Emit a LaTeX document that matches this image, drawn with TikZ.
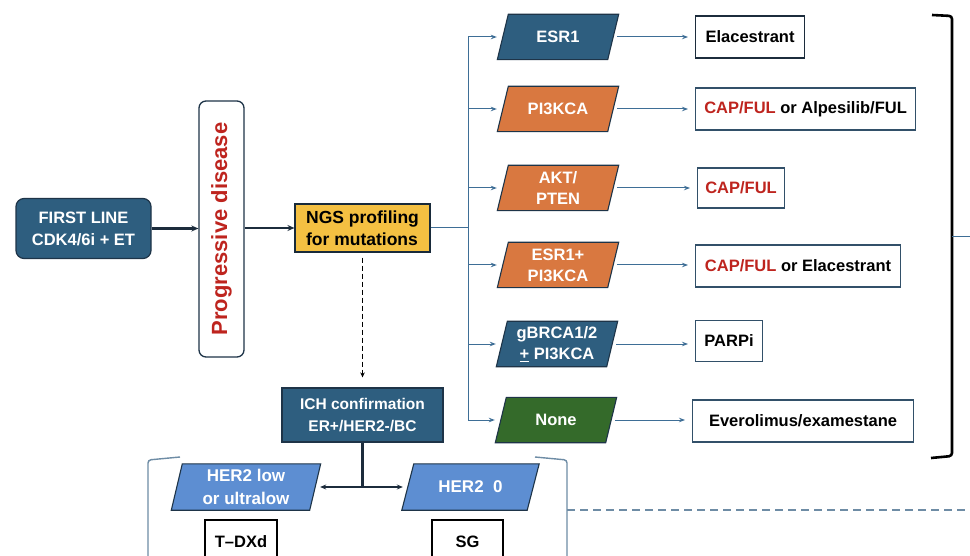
\documentclass[tikz,border=0pt]{standalone}
\usepackage{fontspec}
\setmainfont{Liberation Sans}
\usetikzlibrary{arrows.meta,backgrounds}

\definecolor{navy}{RGB}{46,94,127}
\definecolor{navyedge}{RGB}{30,52,72}
\definecolor{orng}{RGB}{217,120,64}
\definecolor{grn}{RGB}{52,106,42}
\definecolor{lblue}{RGB}{93,142,210}
\definecolor{ylw}{RGB}{244,192,66}
\definecolor{redtxt}{RGB}{190,36,30}
\definecolor{link}{RGB}{62,110,150}
\definecolor{boxedge}{RGB}{50,80,105}
\definecolor{steel}{RGB}{110,140,165}
\definecolor{heavyc}{RGB}{28,44,60}

\pgfdeclarelayer{canvasbg}
\pgfsetlayers{canvasbg,background,main}

% slanted box: name, position, fill colour, half slant, node options, text
\newcommand\slantnode[6]{%
  \node[parabody,#5] (#1) at (#2) {#6};
  \begin{scope}[on background layer]
    \filldraw[fill=#3, draw=navyedge, line width=1.1pt, line join=miter]
      ([xshift=#4]#1.north west) -- ([xshift=#4]#1.north east)
      -- ([xshift=-#4]#1.south east) -- ([xshift=-#4]#1.south west) -- cycle;
  \end{scope}}

\begin{document}
\begin{tikzpicture}[x=1pt,y=-1pt,
  txt/.style={font=\fontsize{16.5}{21}\selectfont\bfseries, align=center},
  parabody/.style={rectangle, minimum width=110pt, minimum height=45pt,
    inner sep=0pt, text=white, txt},
  treat/.style={draw=boxedge, fill=white, line width=1.1pt, minimum height=42pt,
    anchor=west, inner sep=0pt, txt},
  branch/.style={draw=link, line width=1pt, -{Stealth[length=6pt,width=4.5pt]}},
  heavy/.style={draw=heavyc, line width=2.8pt, -{Stealth[length=7pt,width=6pt]}},
  brk/.style={draw=steel, line width=1.4pt, rounded corners=3pt},
]
\clip (0,0) rectangle (970,556);
\begin{pgfonlayer}{canvasbg}
  \fill[white] (0,0) rectangle (970,556);
\end{pgfonlayer}

% first line therapy and progression
\node[fill=navy, draw=navyedge, line width=1.2pt, rounded corners=8pt,
  minimum width=135pt, minimum height=60pt, text=white,
  font=\fontsize{16.5}{22}\selectfont\bfseries, align=center]
  (fl) at (83.5,228.5) {FIRST LINE\\CDK4/6i + ET};
\node[draw=navyedge, line width=1.3pt, rounded corners=7pt, fill=white,
  minimum width=45pt, minimum height=256pt, inner sep=0pt] (pd) at (221.5,229) {};
\node[rotate=90, text=redtxt, font=\fontsize{22}{26}\selectfont\bfseries]
  (pdlabel) at (pd.center) {Progressive disease};
\node[fill=ylw, draw=navyedge!80!black, line width=1.1pt, minimum width=135pt,
  minimum height=48pt, inner sep=0pt, align=left,
  font=\fontsize{17.5}{22}\selectfont\bfseries] (ngs) at (362.5,228)
  {NGS profiling\\for mutations};

\draw[heavy] (fl.east) -- (fl.east -| pd.west);
\draw[heavy] (ngs.west -| pd.east) -- (ngs.west);

% mutation branches
\slantnode{p1}{558,37}{navy}{5.5pt}{}{ESR1}
\slantnode{p2}{558,109}{orng}{5.5pt}{}{PI3KCA}
\slantnode{p3}{558,188}{orng}{5.5pt}{}{AKT/\\PTEN}
\slantnode{p4}{558,265}{orng}{5.5pt}{}{ESR1+\\PI3KCA}
\slantnode{p5}{557,344}{navy}{5.5pt}{}{gBRCA1/2\\\underline{+} PI3KCA}
\slantnode{p6}{556,420}{grn}{5.5pt}{}{None}

\coordinate (tk) at (468,228);
\draw[link, line width=1pt] (ngs.east) -- (tk);
\draw[link, line width=1pt] (p1.west -| tk) -- (p6.west -| tk);
\foreach \p in {p1,p2,p3,p4,p5,p6}
  \draw[branch, shorten >=6pt] (\p.west -| tk) -- (\p.west);

% treatments
\node[treat, minimum width=109pt, draw=heavyc] (t1) at (695,37) {Elacestrant};
\node[treat, minimum width=220pt] (t2) at (695,109)
  {\textcolor{redtxt}{CAP/FUL} or Alpesilib/FUL};
\node[treat, minimum width=87pt, minimum height=40pt] (t3) at (697,188)
  {\textcolor{redtxt}{CAP/FUL}};
\node[treat, minimum width=205pt] (t4) at (695,266)
  {\textcolor{redtxt}{CAP/FUL} or Elacestrant};
\node[treat, minimum width=67pt, minimum height=41pt] (t5) at (695,341) {PARPi};
\node[treat, minimum width=221pt] (t6) at (692,421) {Everolimus/examestane};

\foreach \p/\t in {p1/t1,p2/t2,p3/t3,p4/t4,p5/t5,p6/t6}
  \draw[branch, shorten <=4pt, shorten >=7pt] (\p.east) -- (\p.east -| \t.west);

% bracket grouping the targeted options
\draw[black, line width=2.6pt, rounded corners=3pt]
  (932,15) -- (952,16) -- (952,456) -- (931,458);
\coordinate (bk) at (952,237);
\coordinate (bkout) at (975,237);
\draw[link, line width=1pt] (bk) -- (bkout);

% IHC confirmation and HER2 status
\node[fill=navy, draw=navyedge, line width=1.2pt, minimum width=161pt,
  minimum height=54pt, inner sep=0pt, text=white, align=center,
  font=\fontsize{15.5}{22}\selectfont\bfseries] (ich) at (362.5,415)
  {ICH confirmation\\ER+/HER2-/BC};
\draw[black, dashed, line width=1pt, dash pattern=on 5pt off 3pt,
  -{Stealth[length=5pt,width=4.5pt]}, shorten <=5pt, shorten >=10pt]
  (ngs.south) -- (ich.north);

\slantnode{h1}{246,487}{lblue}{5.5pt}{minimum width=138pt, minimum height=46pt,
  font=\fontsize{17}{23}\selectfont\bfseries}{HER2 low\\or ultralow}
\slantnode{h0}{470.5,487}{lblue}{6pt}{minimum width=125pt, minimum height=46pt,
  font=\fontsize{17}{23}\selectfont\bfseries}{HER2\ \ 0}

\coordinate (jn) at (362.5,488);
\draw[heavyc, line width=3pt] (ich.south) -- (jn);
\draw[heavyc, line width=2pt,
  {Stealth[length=6pt,width=5pt]}-{Stealth[length=6pt,width=5pt]},
  shorten <=5pt, shorten >=5pt] (h1.east) -- (h0.west);

\node[draw=black, fill=white, line width=1.1pt, minimum width=72pt,
  minimum height=44pt, inner sep=0pt, txt] (tdxd) at (241,542) {T--DXd};
\node[draw=black, fill=white, line width=1.1pt, minimum width=71pt,
  minimum height=44pt, inner sep=0pt, txt] (sg) at (467.5,542) {SG};

% brackets around the HER2 options
\draw[brk] (180,457) -- (148,460) -- (148,570);
\draw[brk] (535,457) -- (567,460) -- (567,570);
\coordinate (dk) at (567,510);
\coordinate (dkout) at (975,510);
\draw[steel, line width=1.4pt, dash pattern=on 8pt off 5pt] (dk) -- (dkout);
\end{tikzpicture}
\end{document}
